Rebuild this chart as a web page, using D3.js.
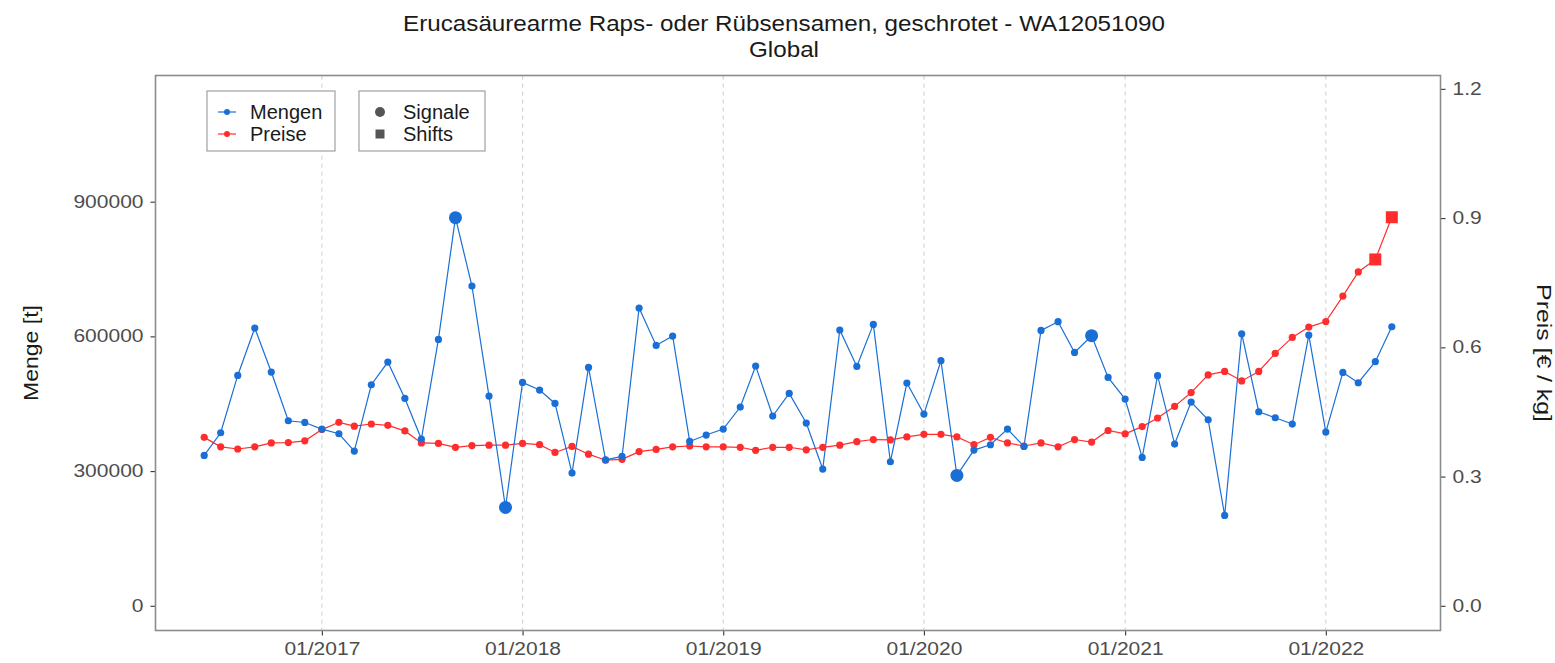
<!DOCTYPE html>
<html>
<head>
<meta charset="utf-8">
<script src="https://cdn.jsdelivr.net/npm/d3@7"></script>
<style>
  body { margin: 0; background: #fff; }
  text { font-family: "Liberation Sans", Arial, sans-serif; }
</style>
</head>
<body>
<svg id="chart"></svg>
<script>
const width = 1555;
const height = 663;

// monthly values, 06/2016 .. 05/2022
const startMonth = "2016-06";
const mengen = [
  334800, 385400, 513000, 618600, 520600, 412100, 408300, 393600, 383200, 344600,
  492300, 542900, 461800, 371300, 593200, 864300, 712200, 467100, 219000, 497400,
  480500, 450700, 295600, 530900, 325200, 332600, 663200, 579900, 600800, 366000,
  380300, 393600, 442600, 534000, 422600, 472900, 407000, 304500, 614200, 533100,
  626700, 320800, 496100, 427000, 545800, 290300, 346800, 358700, 393600, 354900,
  613300, 632700, 564300, 601500, 508600, 460500, 330400, 512400, 360200, 453800,
  414300, 201200, 605900, 432200, 418800, 404800, 603000, 386900, 519700, 496800,
  543600, 621500
];
const preise = [
  0.391, 0.369, 0.364, 0.369, 0.378, 0.379, 0.383, 0.409, 0.426, 0.417,
  0.422, 0.419, 0.406, 0.378, 0.377, 0.368, 0.372, 0.373, 0.373, 0.377,
  0.374, 0.356, 0.370, 0.352, 0.338, 0.340, 0.358, 0.363, 0.369, 0.371,
  0.369, 0.369, 0.368, 0.361, 0.368, 0.368, 0.362, 0.368, 0.373, 0.381,
  0.386, 0.385, 0.392, 0.398, 0.398, 0.392, 0.374, 0.391, 0.378, 0.371,
  0.378, 0.369, 0.386, 0.380, 0.407, 0.399, 0.416, 0.436, 0.463, 0.495,
  0.536, 0.544, 0.522, 0.544, 0.586, 0.623, 0.647, 0.660, 0.719, 0.775,
  0.804, 0.902
];
// marked months
const signale = ["2017-09", "2017-12", "2020-03", "2020-11"];   // Mengen
const shifts = ["2022-04", "2022-05"];                            // Preise

const mengeTicks = [0, 300000, 600000, 900000];
const preisTicks = [0.0, 0.3, 0.6, 0.9, 1.2];
const yearTicks = ["2017-01", "2018-01", "2019-01", "2020-01", "2021-01", "2022-01"];

const titleLines = ["Erucasäurearme Raps- oder Rübsensamen, geschrotet - WA12051090", "Global"];

const blue = "#1a6fd6";
const red = "#ff2d2d";

const parseMonth = d3.timeParse("%Y-%m");
const fmtMonth = d3.timeFormat("%Y-%m");
const start = parseMonth(startMonth);
const data = mengen.map((m, i) => {
  const date = d3.timeMonth.offset(start, i);
  return { date: date, key: fmtMonth(date), menge: m, preis: preise[i] };
});

const margin = { top: 75.5, right: 114.5, bottom: 32.5, left: 155.5 };
const x0 = margin.left, x1 = width - margin.right;
const y0 = height - margin.bottom, y1 = margin.top;

const svg = d3.select("#chart")
    .attr("width", width)
    .attr("height", height);

// the text in the source is a bit wider than plain Arial
function stretch(sel, k) {
  sel.each(function () {
    const w = this.getComputedTextLength();
    d3.select(this).attr("textLength", w * k).attr("lengthAdjust", "spacingAndGlyphs");
  });
}

// date axis with a small expansion on both ends
const ext = d3.extent(data, d => d.date);
const pad = (ext[1] - ext[0]) * 0.041;
const x = d3.scaleTime()
    .domain([new Date(+ext[0] - pad), new Date(+ext[1] + pad)])
    .range([x0, x1]);
const yM = d3.scaleLinear().domain([-55000, 1181000]).range([y0, y1]);
const yP = d3.scaleLinear().domain([-0.0573, 1.231]).range([y0, y1]);

// vertical dashed grid
svg.append("g")
  .selectAll("line")
  .data(yearTicks.map(parseMonth))
  .join("line")
    .attr("x1", d => x(d)).attr("x2", d => x(d))
    .attr("y1", y1).attr("y2", y0)
    .attr("stroke", "#d3d3d3")
    .attr("stroke-width", 1.2)
    .attr("stroke-dasharray", "4,4");

// axes
const tickStyle = g => {
  g.select(".domain").remove();
  g.selectAll(".tick line").attr("stroke", "#333").attr("stroke-width", 1.1);
  g.selectAll(".tick text")
    .attr("fill", "#4d4d4d")
    .style("font-size", "17.5px")
    .style("font-family", "'Liberation Sans', Arial, sans-serif")
    .call(stretch, 1.2);
};

svg.append("g")
    .attr("transform", `translate(0,${y0})`)
    .call(d3.axisBottom(x).tickValues(yearTicks.map(parseMonth))
      .tickFormat(d3.timeFormat("%m/%Y")).tickSize(5).tickPadding(7))
    .call(tickStyle);

svg.append("g")
    .attr("transform", `translate(${x0},0)`)
    .call(d3.axisLeft(yM).tickValues(mengeTicks).tickFormat(d3.format("d")).tickSize(5).tickPadding(7))
    .call(tickStyle);

svg.append("g")
    .attr("transform", `translate(${x1},0)`)
    .call(d3.axisRight(yP).tickValues(preisTicks).tickFormat(d3.format(".1f")).tickSize(5).tickPadding(7))
    .call(tickStyle);

// panel border
svg.append("rect")
    .attr("x", x0).attr("y", y1)
    .attr("width", x1 - x0).attr("height", y0 - y1)
    .attr("fill", "none")
    .attr("stroke", "#8c8c8c")
    .attr("stroke-width", 1.6);

// lines
const lineM = d3.line().x(d => x(d.date)).y(d => yM(d.menge));
const lineP = d3.line().x(d => x(d.date)).y(d => yP(d.preis));

svg.append("path").datum(data)
    .attr("d", lineP).attr("fill", "none")
    .attr("stroke", red).attr("stroke-width", 1.2);
svg.append("path").datum(data)
    .attr("d", lineM).attr("fill", "none")
    .attr("stroke", blue).attr("stroke-width", 1.2);

svg.append("g").selectAll("circle")
  .data(data.filter(d => !shifts.includes(d.key)))
  .join("circle")
    .attr("cx", d => x(d.date)).attr("cy", d => yP(d.preis))
    .attr("r", 3.6).attr("fill", red);

svg.append("g").selectAll("rect")
  .data(data.filter(d => shifts.includes(d.key)))
  .join("rect")
    .attr("x", d => x(d.date) - 6).attr("y", d => yP(d.preis) - 6)
    .attr("width", 12).attr("height", 12).attr("fill", red);

svg.append("g").selectAll("circle")
  .data(data)
  .join("circle")
    .attr("cx", d => x(d.date)).attr("cy", d => yM(d.menge))
    .attr("r", d => signale.includes(d.key) ? 6.5 : 3.6)
    .attr("fill", blue);

// titles
svg.append("g").selectAll("text")
  .data(titleLines)
  .join("text")
    .attr("x", 784).attr("y", (d, i) => 31 + i * 26)
    .attr("text-anchor", "middle")
    .attr("fill", "#1a1a1a")
    .style("font-size", "22px")
    .text(d => d)
    .call(stretch, 1.1);

svg.append("text")
    .attr("transform", `translate(38,${(y0 + y1) / 2}) rotate(-90)`)
    .attr("text-anchor", "middle")
    .style("font-size", "20px")
    .attr("fill", "#1a1a1a")
    .text("Menge [t]")
    .call(stretch, 1.15);

svg.append("text")
    .attr("transform", `translate(1537,${(y0 + y1) / 2}) rotate(90)`)
    .attr("text-anchor", "middle")
    .style("font-size", "20px")
    .attr("fill", "#1a1a1a")
    .text("Preis [€ / kg]")
    .call(stretch, 1.24);

// legends
const leg1 = svg.append("g").attr("transform", "translate(207,91)");
leg1.append("rect").attr("width", 128).attr("height", 60)
    .attr("fill", "#fff").attr("stroke", "#a0a0a0").attr("stroke-width", 1.2);
[["Mengen", blue], ["Preise", red]].forEach(([name, col], i) => {
  const cy = 21 + i * 22;
  leg1.append("line").attr("x1", 11).attr("x2", 29).attr("y1", cy).attr("y2", cy)
      .attr("stroke", col).attr("stroke-width", 1.2);
  leg1.append("circle").attr("cx", 20).attr("cy", cy).attr("r", 3).attr("fill", col);
  leg1.append("text").attr("x", 43).attr("y", cy + 7)
      .style("font-size", "20px").attr("fill", "#1a1a1a").text(name);
});

const leg2 = svg.append("g").attr("transform", "translate(359,91)");
leg2.append("rect").attr("width", 126).attr("height", 60)
    .attr("fill", "#fff").attr("stroke", "#a0a0a0").attr("stroke-width", 1.2);
leg2.append("circle").attr("cx", 21).attr("cy", 21).attr("r", 5).attr("fill", "#555");
leg2.append("rect").attr("x", 16.5).attr("y", 38.5).attr("width", 9).attr("height", 9).attr("fill", "#555");
["Signale", "Shifts"].forEach((name, i) => {
  leg2.append("text").attr("x", 44).attr("y", 28 + i * 22)
      .style("font-size", "20px").attr("fill", "#1a1a1a").text(name);
});
</script>
</body>
</html>
